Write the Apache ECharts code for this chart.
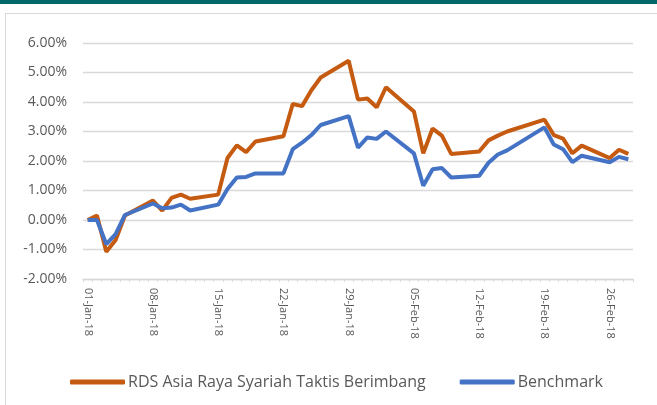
<!DOCTYPE html>
<html>
<head>
<meta charset="utf-8">
<script src="https://cdn.jsdelivr.net/npm/echarts@6/dist/echarts.min.js"></script>
<style>
  html, body { margin: 0; padding: 0; background: #fff; }
  #band { position: absolute; left: 0; top: 0; width: 657px; height: 4px; background: #05696a; }
  #frame { position: absolute; left: 5px; top: 13px; width: 700px; height: 450px; border: 1px solid #d9d9d9; }
  #chart { position: absolute; left: 0; top: 0; width: 657px; height: 405px; }
</style>
</head>
<body>
<div id="band"></div>
<div id="frame"></div>
<div id="chart"></div>
<script>
var seriesNames = ['RDS Asia Raya Syariah Taktis Berimbang', 'Benchmark'];

var tradingDates = [
    '2018-01-01', '2018-01-02', '2018-01-03', '2018-01-04', '2018-01-05',
    '2018-01-08', '2018-01-09', '2018-01-10', '2018-01-11', '2018-01-12',
    '2018-01-15', '2018-01-16', '2018-01-17', '2018-01-18', '2018-01-19',
    '2018-01-22', '2018-01-23', '2018-01-24', '2018-01-25', '2018-01-26',
    '2018-01-29', '2018-01-30', '2018-01-31', '2018-02-01', '2018-02-02',
    '2018-02-05', '2018-02-06', '2018-02-07', '2018-02-08', '2018-02-09',
    '2018-02-12', '2018-02-13', '2018-02-14', '2018-02-15',
    '2018-02-19', '2018-02-20', '2018-02-21', '2018-02-22', '2018-02-23',
    '2018-02-26', '2018-02-27', '2018-02-28'
];

// return in %
var fundValues = [
    0.00, 0.15, -1.08, -0.68, 0.15,
    0.66, 0.32, 0.75, 0.86, 0.72,
    0.86, 2.10, 2.53, 2.30, 2.66,
    2.84, 3.93, 3.86, 4.40, 4.83,
    5.40, 4.08, 4.12, 3.82, 4.50,
    3.68, 2.26, 3.10, 2.86, 2.24,
    2.32, 2.70, 2.86, 3.00,
    3.40, 2.88, 2.76, 2.26, 2.52,
    2.10, 2.38, 2.24
];

var benchValues = [
    0.00, 0.00, -0.82, -0.48, 0.17,
    0.56, 0.40, 0.42, 0.52, 0.32,
    0.52, 1.05, 1.44, 1.46, 1.58,
    1.58, 2.40, 2.62, 2.88, 3.22,
    3.52, 2.45, 2.80, 2.75, 3.00,
    2.26, 1.16, 1.72, 1.76, 1.44,
    1.50, 1.94, 2.22, 2.36,
    3.14, 2.56, 2.40, 1.96, 2.18,
    1.96, 2.14, 2.06
];

var tickLabels = ['01-Jan-18', '08-Jan-18', '15-Jan-18', '22-Jan-18', '29-Jan-18',
    '05-Feb-18', '12-Feb-18', '19-Feb-18', '26-Feb-18'];

var startDate = '2018-01-01';
var endDate = '2018-02-28';

// calendar days for the date axis
var months = ['Jan', 'Feb', 'Mar', 'Apr', 'May', 'Jun', 'Jul', 'Aug', 'Sep', 'Oct', 'Nov', 'Dec'];
var days = [];
var labels = [];
var d = new Date(startDate + 'T00:00:00Z');
var last = new Date(endDate + 'T00:00:00Z');
while (d <= last) {
    days.push(d.toISOString().slice(0, 10));
    var dd = ('0' + d.getUTCDate()).slice(-2);
    labels.push(dd + '-' + months[d.getUTCMonth()] + '-' + String(d.getUTCFullYear()).slice(2));
    d = new Date(d.getTime() + 86400000);
}

function onCalendar(values) {
    return days.map(function(day) {
        var i = tradingDates.indexOf(day);
        return i >= 0 ? values[i] : null;
    });
}

var textColor = '#595959';
var font = 'Open Sans';

var chart = echarts.init(document.getElementById('chart'));

chart.setOption({
    animation: false,
    grid: { left: 83, right: 24, top: 43, bottom: 126 },
    legend: {
        left: 65,
        top: 369,
        itemWidth: 55,
        itemHeight: 5,
        itemGap: 34,
        icon: 'roundRect',
        textStyle: { color: textColor, fontSize: 16, fontFamily: font, padding: [0, 0, 0, -2] },
        data: seriesNames
    },
    xAxis: [{
        type: 'category',
        data: labels,
        boundaryGap: true,
        axisLine: { show: false },
        axisTick: { show: false },
        axisLabel: {
            interval: function(index, value) { return tickLabels.indexOf(value) >= 0; },
            rotate: -90,
            margin: 9,
            color: textColor,
            fontSize: 11,
            fontFamily: font
        }
    }, {
        type: 'category',
        data: labels,
        position: 'bottom',
        boundaryGap: true,
        axisLine: { onZero: true, lineStyle: { color: '#d9d9d9', width: 1.3 } },
        axisTick: { show: true, interval: 0, length: 3, lineStyle: { color: '#d9d9d9' } },
        axisLabel: { show: false }
    }],
    yAxis: {
        type: 'value',
        min: -2,
        max: 6,
        interval: 1,
        axisLine: { show: false },
        axisTick: { show: false },
        splitLine: { lineStyle: { color: '#d9d9d9', width: 1.3 } },
        axisLabel: {
            margin: 16,
            color: textColor,
            fontSize: 14,
            fontFamily: font,
            formatter: function(v) { return v.toFixed(2) + '%'; }
        }
    },
    series: [{
        name: seriesNames[0],
        type: 'line',
        xAxisIndex: 0,
        data: onCalendar(fundValues),
        connectNulls: true,
        symbol: 'none',
        itemStyle: { color: '#c55a11' },
        lineStyle: { color: '#c55a11', width: 4 }
    }, {
        name: seriesNames[1],
        type: 'line',
        xAxisIndex: 0,
        data: onCalendar(benchValues),
        connectNulls: true,
        symbol: 'none',
        itemStyle: { color: '#4472c4' },
        lineStyle: { color: '#4472c4', width: 4 }
    }]
});
</script>
</body>
</html>
